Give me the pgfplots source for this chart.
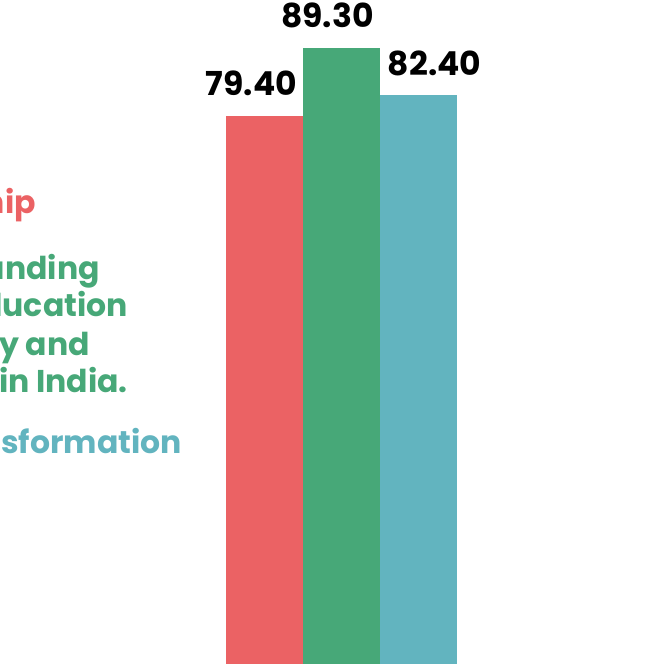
\documentclass[border=0pt]{standalone}
\usepackage{fontspec}
\setmainfont{Poppins}
\usepackage{pgfplots}
\pgfplotsset{compat=1.18}
\definecolor{cred}{RGB}{235,98,100}
\definecolor{cgreen}{RGB}{71,168,120}
\definecolor{cteal}{RGB}{98,180,191}
\begin{document}
\begin{tikzpicture}
\useasboundingbox (0,0) rectangle (649pt,664pt);
\clip (0,0) rectangle (649pt,664pt);
\begin{axis}[
  at={(0,0)}, anchor=south west,
  scale only axis, width=649pt, height=664pt,
  axis lines=none, enlargelimits=false,
  xmin=-3.435, xmax=4.994, ymin=0, ymax=96.2,
  clip=false,
  /pgf/number format/assume math mode=true,
  /pgf/number format/fixed, /pgf/number format/fixed zerofill,
  /pgf/number format/precision=2,
  every node near coord/.append style={font=\fontsize{33}{40}\selectfont\bfseries, text=black, anchor=base, yshift=20pt},
]
\addplot[ybar, bar width=77pt, bar shift=0pt, fill=cred, draw=none, nodes near coords,
  every node near coord/.append style={xshift=-13pt}] coordinates {(0,79.4)};
\addplot[ybar, bar width=77pt, bar shift=0pt, fill=cgreen, draw=none, nodes near coords,
  every node near coord/.append style={xshift=-14pt}] coordinates {(1,89.3)};
\addplot[ybar, bar width=77pt, bar shift=0pt, fill=cteal, draw=none, nodes near coords,
  every node near coord/.append style={xshift=16pt}] coordinates {(2,82.4)};
\end{axis}
\begin{scope}[every node/.style={anchor=base east, inner sep=0pt, font=\fontsize{31.5}{38}\selectfont\bfseries}]
\node[text=cred] at (36pt,{664pt-214pt}) {hip};
\node[text=cgreen] at (100pt,{664pt-280pt}) {anding};
\node[text=cgreen] at (128pt,{664pt-317pt}) {ducation};
\node[text=cgreen] at (90pt,{664pt-356pt}) {ty and};
\node[text=cgreen] at (128pt,{664pt-393pt}) {in India.};
\node[text=cteal] at (182pt,{664pt-454pt}) {sformation};
\end{scope}
\end{tikzpicture}
\end{document}
